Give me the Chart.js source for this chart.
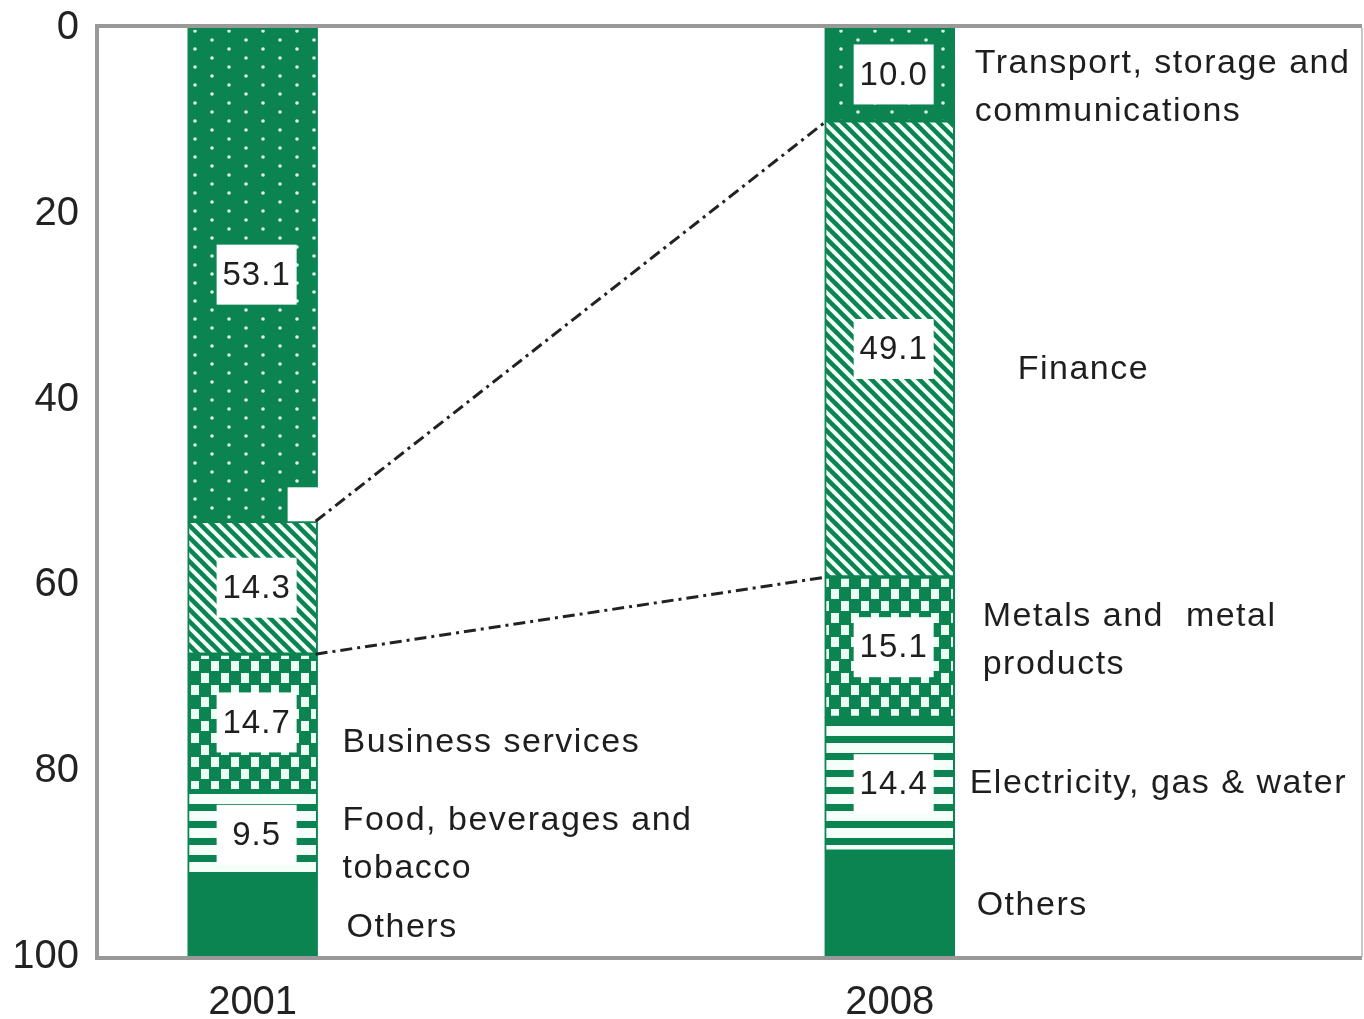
<!DOCTYPE html>
<html lang="en">
<head>
<meta charset="UTF-8">
<title>Sector shares, 2001 and 2008</title>
<script src="https://cdn.jsdelivr.net/npm/chart.js"></script>
<style>
    html, body { margin: 0; padding: 0; background: #fff; }
    .chart-container { position: relative; width: 1364px; height: 1019px; }
</style>
</head>
<body>
<div class="chart-container"><canvas id="shareChart"></canvas></div>
<script>
// Shares (%) of each stack position, top to bottom, for 2001 and 2008
const years = [2001, 2008];
const topShare = [53.1, 10.0];
const financeShare = [14.3, 49.1];
const thirdShare = [14.7, 15.1];
const fourthShare = [9.5, 14.4];
const othersShare = [8.4, 11.4];
const yTicks = [0, 20, 40, 60, 80, 100];

// Sector names written beside each bar
const sectors2001 = ['', '', 'Business services', 'Food, beverages and\ntobacco', 'Others'];
const sectors2008 = ['Transport, storage and\ncommunications', 'Finance', 'Metals and  metal\nproducts', 'Electricity, gas & water', 'Others'];

const GREEN = '#0b8451';
const FONT = '"Liberation Sans", Arial, sans-serif';

const canvas = document.getElementById('shareChart');
const ctx = canvas.getContext('2d');

function makePattern(w, h, draw) {
    const c = document.createElement('canvas');
    c.width = w; c.height = h;
    draw(c.getContext('2d'), w, h);
    return ctx.createPattern(c, 'repeat');
}

const dots = makePattern(34, 18, (g, w, h) => {
    g.fillStyle = GREEN; g.fillRect(0, 0, w, h);
    g.fillStyle = '#dff7ea';
    [[8, 4], [25, 13]].forEach(([x, y]) => { g.beginPath(); g.arc(x, y, 1.8, 0, Math.PI * 2); g.fill(); });
});
const diagonal = makePattern(12, 12, (g, w, h) => {
    g.fillStyle = '#f2fff8'; g.fillRect(0, 0, w, h);
    g.strokeStyle = GREEN; g.lineWidth = 4.5;
    for (let k = -1; k <= 1; k++) {
        g.beginPath(); g.moveTo(k * 12 - 2, -2); g.lineTo(k * 12 + 14, 14); g.stroke();
    }
});
const checker = makePattern(20, 24, (g, w, h) => {
    g.fillStyle = GREEN; g.fillRect(0, 0, w, h);
    g.fillStyle = '#ecfff5';
    g.fillRect(1, 1, 8, 10);
    g.fillRect(11, 13, 8, 10);
});
const stripes = makePattern(10, 17, (g, w, h) => {
    g.fillStyle = '#f4fffa'; g.fillRect(0, 0, w, h);
    g.fillStyle = GREEN; g.fillRect(0, 5, w, 7);
});

const positions = [topShare, financeShare, thirdShare, fourthShare, othersShare];
const fills = [dots, diagonal, checker, stripes, GREEN];

const datasets = positions.map((vals, i) => ({
    data: years.map((yr, j) => ({ x: yr, y: vals[j] })),
    backgroundColor: fills[i],
    borderColor: GREEN,
    borderWidth: 2,
    borderSkipped: false,
    barThickness: 130,
    stack: 'share'
}));

// label nudges (px) for the sector names, per bar and position
const nameDx = [[0, 0, 25, 25, 29], [20, 63, 28, 15, 22]];
const nameDy = [[0, 0, 20, 10, 10], [13, 21, -7, -1, 2]];

const overlay = {
    id: 'overlay',
    afterDatasetsDraw(chart) {
        const c = chart.ctx;
        const area = chart.chartArea;
        const metas = positions.map((_, i) => chart.getDatasetMeta(i));
        const names = [sectors2001, sectors2008];

        c.save();

        // small white gap at the 2001 bar where the upper connector starts
        const f0 = metas[1].data[0];
        c.fillStyle = '#fff';
        c.fillRect(f0.x + f0.width / 2 - 30, f0.base - 34, 32, 34);

        // value boxes
        c.font = '33px ' + FONT;
        c.letterSpacing = '1px';
        c.textAlign = 'center';
        c.textBaseline = 'middle';
        for (let i = 0; i < 4; i++) {
            metas[i].data.forEach((bar, j) => {
                const mid = (bar.y + bar.base) / 2;
                const cx = bar.x + 4;
                c.fillStyle = '#fff';
                c.fillRect(cx - 40, mid - 30, 80, 60);
                c.fillStyle = '#1e1e1e';
                c.fillText(positions[i][j].toFixed(1), cx, mid + 1);
            });
        }

        // sector names
        c.font = '34px ' + FONT;
        c.letterSpacing = '1.5px';
        c.textAlign = 'left';
        c.fillStyle = '#1e1e1e';
        metas.forEach((meta, i) => {
            meta.data.forEach((bar, j) => {
                const text = names[j][i];
                if (!text) return;
                const lines = text.split('\n');
                const mid = (bar.y + bar.base) / 2 + nameDy[j][i];
                const x = bar.x + bar.width / 2 + nameDx[j][i];
                lines.forEach((ln, k) => {
                    c.fillText(ln, x, mid + (k - (lines.length - 1) / 2) * 48);
                });
            });
        });

        // connectors showing how the finance share moved
        const f1 = metas[1].data[1];
        c.strokeStyle = '#222';
        c.lineWidth = 3;
        c.setLineDash([12, 5, 3, 5]);
        const x0 = f0.x + f0.width / 2 - 2, x1 = f1.x - f1.width / 2 + 2;
        c.beginPath();
        c.moveTo(x0, f0.base); c.lineTo(x1, f1.base);
        c.moveTo(x0, f0.y); c.lineTo(x1, f1.y);
        c.stroke();
        c.setLineDash([]);

        // frame
        c.strokeStyle = '#c8c8c8'; c.lineWidth = 2;
        c.beginPath(); c.moveTo(area.right, area.top); c.lineTo(area.right, area.bottom); c.stroke();
        c.strokeStyle = '#999'; c.lineWidth = 4;
        c.beginPath();
        c.moveTo(area.left, area.bottom); c.lineTo(area.left, area.top - 2);
        c.lineTo(area.right, area.top - 2);
        c.moveTo(area.left - 2, area.bottom + 1); c.lineTo(area.right, area.bottom + 1);
        c.stroke();

        c.restore();
    }
};

new Chart(ctx, {
    type: 'bar',
    data: { datasets },
    options: {
        responsive: true,
        maintainAspectRatio: false,
        animation: false,
        layout: { padding: { top: 28, right: 2, left: 0, bottom: 0 } },
        plugins: { legend: { display: false }, tooltip: { enabled: false } },
        scales: {
            x: {
                type: 'linear',
                offset: false,
                stacked: true,
                min: 1999.29,
                max: 2013.19,
                afterBuildTicks: s => { s.ticks = years.map(v => ({ value: v })); },
                afterFit: s => { s.height = 62; s.paddingLeft = 0; s.paddingRight = 0; },
                grid: { display: false, offset: false },
                border: { display: false },
                ticks: {
                    autoSkip: false, maxRotation: 0, padding: 14,
                    color: '#222',
                    font: { family: FONT, size: 40 },
                    callback: v => String(v)
                }
            },
            y: {
                type: 'linear',
                stacked: true,
                reverse: true,
                min: 0,
                max: 100,
                afterBuildTicks: s => { s.ticks = yTicks.map(v => ({ value: v })); },
                afterFit: s => { s.width = 97; s.paddingTop = 0; s.paddingBottom = 0; },
                grid: { display: false },
                border: { display: false },
                ticks: {
                    padding: 10,
                    color: '#222',
                    font: { family: FONT, size: 40 }
                }
            }
        }
    },
    plugins: [overlay]
});
</script>
</body>
</html>
